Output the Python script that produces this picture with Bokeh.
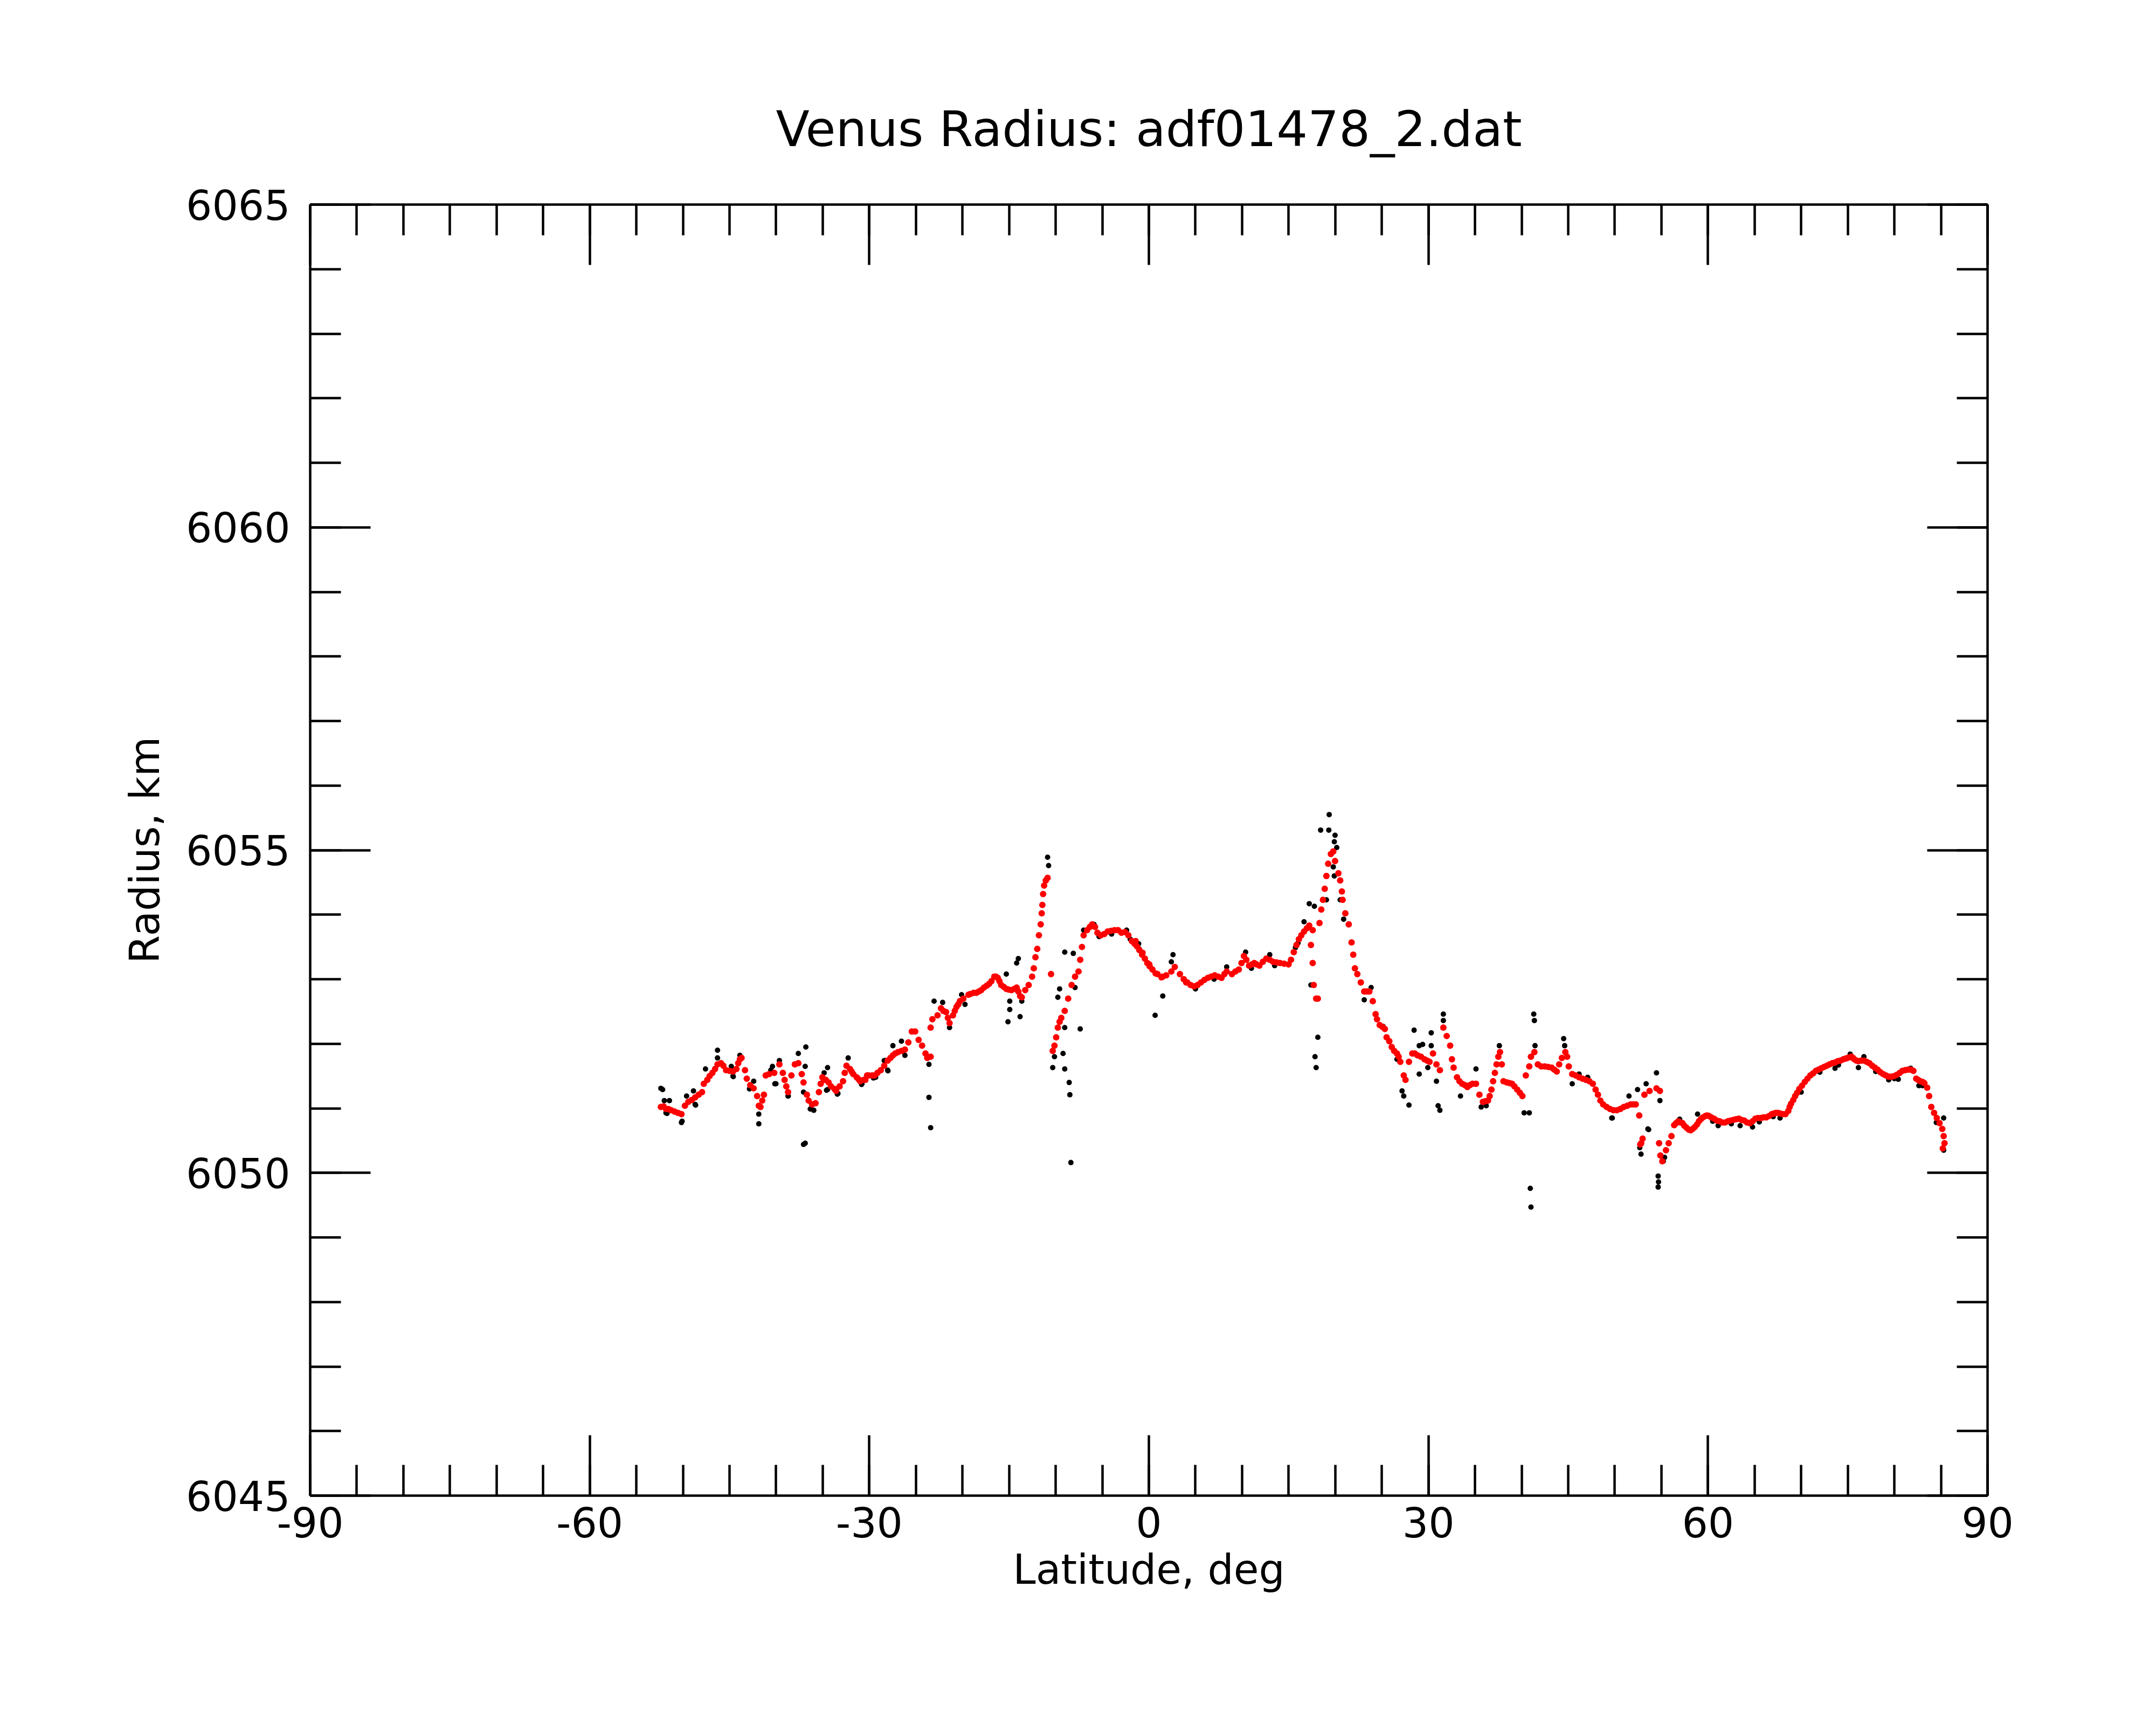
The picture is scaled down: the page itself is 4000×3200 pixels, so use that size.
from bokeh.plotting import figure
from bokeh.models import Range1d, FixedTicker, LinearAxis
from bokeh.embed import file_html
from bokeh.resources import INLINE

# ---------------- data ----------------
red_lat = [
    -52.37, -51.82, -51.27, -50.53, -50.16, -49.79, -49.42, -48.69, -47.95, -47.76,
    -47.39, -46.84, -46.29, -45.92, -45.37, -44.63, -44.26, -43.89, -43.71, -43.34,
    -43.15, -42.78, -42.41, -42.04, -41.86, -41.68, -41.49, -41.31, -41.12, -40.75,
    -40.20, -39.65, -39.28, -39.09, -38.91, -38.72, -38.36, -37.99, -37.62, -37.25,
    -37.06, -36.70, -36.51, -36.14, -35.77, -35.41, -35.04, -34.67, -34.11, -33.56,
    -33.19, -32.82, -32.45, -32.08, -31.72, -31.35, -30.98, -30.61, -30.24, -29.69,
    -29.13, -28.40, -28.03, -27.47, -26.92, -26.18, -25.81, -25.44, -25.08, -24.71,
    -24.34, -23.97, -23.78, -23.42,
    -23.42, -23.23, -22.68, -22.31, -21.76, -21.39, -21.02, -20.65, -20.28, -19.91,
    -19.36, -18.80, -18.25, -17.70, -17.14, -16.59, -16.22, -15.85, -15.30, -14.75,
    -14.19, -13.82, -13.64, -13.27, -12.90, -12.53, -12.35, -12.17, -11.98, -11.80,
    -11.61, -11.50, -11.43, -11.35, -11.24, -11.06, -10.87,
    -10.50, -10.32, -10.13, -9.95, -9.77, -9.58, -9.40, -9.03, -8.66, -8.29,
    -7.92, -7.55, -7.37, -7.18, -7.00, -6.63, -6.08, -5.52, -5.16, -4.42,
    -3.68, -2.94, -2.20, -1.83, -1.28, -0.73, -0.17, 0.38, 0.93, 1.49,
    1.86, 2.41, 2.78, 3.33, 4.00,
    4.11, 4.85, 5.59, 6.33, 7.06, 7.80, 8.35, 8.91, 9.65, 10.20,
    10.75, 11.31, 11.86, 12.60, 13.33, 14.07, 14.99, 15.55, 16.10, 16.65,
    17.21, 17.58, 18.31, 18.50, 18.68, 18.87, 19.05, 19.24, 19.53, 19.79,
    19.98, 20.34, 20.53, 20.71, 20.79, 21.08, 21.45, 21.75, 21.93, 22.11,
    22.37, 22.74, 23.11, 23.66, 24.03, 24.33, 24.77, 25.32, 25.51, 26.06,
    26.62, 26.98, 27.35, 27.54, 27.91, 28.27, 28.83, 29.57, 30.12, 30.49,
    30.86, 31.23,
    17.39, 17.58, 17.69, 17.95, 18.13,
    31.60, 31.96, 32.33, 32.52, 32.70, 33.07, 33.62, 34.18, 34.73, 35.10,
    35.47, 35.84, 36.39, 36.76, 37.13, 37.50, 37.68, 37.87, 38.05, 38.42,
    38.97, 39.53, 40.08, 40.45, 40.82, 41.00, 41.37, 41.74, 42.48, 43.22,
    43.77, 44.32, 44.69, 44.88, 45.06, 45.43, 46.17, 46.90, 47.64, 48.19,
    48.75, 49.49, 50.22, 50.96, 51.70, 52.25, 52.62, 53.18, 53.73, 54.47,
    54.84,
    52.73, 52.83, 52.98, 54.75, 54.89, 55.10, 55.49, 55.78, 56.08,
    56.37, 56.81, 57.26, 57.70, 58.14, 58.58, 59.03, 59.47, 59.91, 60.35,
    60.94, 61.53, 62.13, 62.72, 63.31, 63.90, 64.49, 65.08, 65.67, 66.26,
    66.85, 67.29, 67.73, 68.32, 68.62, 68.91, 69.35, 69.80, 70.39, 70.98,
    71.57, 72.16, 72.75, 73.34, 73.93, 74.52, 74.96, 75.40, 75.70, 76.14,
    76.73, 77.32, 77.91, 78.50, 79.09, 79.68, 80.27, 80.86, 81.45, 82.04,
    82.34, 82.78, 83.22, 83.52, 83.73, 83.96, 84.26, 84.55, 84.85, 85.14,
    85.29, 85.38, 85.20,
]
red_rad = [
    6051.02, 6050.99, 6050.97, 6050.93, 6050.91, 6051.04, 6051.10, 6051.17, 6051.25, 6051.38,
    6051.44, 6051.55, 6051.68, 6051.70, 6051.59, 6051.57, 6051.61, 6051.76, 6051.78, 6051.59,
    6051.46, 6051.36, 6051.31, 6051.19, 6051.04, 6051.02, 6051.12, 6051.21, 6051.51, 6051.53,
    6051.55, 6051.68, 6051.55, 6051.44, 6051.34, 6051.25, 6051.51, 6051.68, 6051.70, 6051.53,
    6051.40, 6051.21, 6051.12, 6051.06, 6051.08, 6051.25, 6051.48, 6051.44, 6051.34, 6051.27,
    6051.34, 6051.42, 6051.66, 6051.61, 6051.53, 6051.48, 6051.42, 6051.44, 6051.51, 6051.51,
    6051.55, 6051.66, 6051.74, 6051.82, 6051.87, 6051.91, 6052.02, 6052.19, 6052.19, 6052.06,
    6051.97, 6051.85, 6051.78, 6051.80,
    6052.25, 6052.38, 6052.44, 6052.55, 6052.49, 6052.32, 6052.44, 6052.57, 6052.66, 6052.70,
    6052.76, 6052.79, 6052.81, 6052.87, 6052.93, 6053.04, 6053.02, 6052.91, 6052.85, 6052.83,
    6052.87, 6052.74, 6052.72, 6052.83, 6052.91, 6053.04, 6053.17, 6053.34, 6053.47, 6053.68,
    6053.85, 6054.02, 6054.15, 6054.32, 6054.45, 6054.53, 6054.57,
    6053.08, 6051.89, 6051.97, 6052.10, 6052.25, 6052.34, 6052.40, 6052.51, 6052.70, 6052.91,
    6053.04, 6053.12, 6053.30, 6053.50, 6053.68, 6053.76, 6053.85, 6053.72, 6053.68, 6053.74,
    6053.76, 6053.72, 6053.68, 6053.59, 6053.51, 6053.38, 6053.25, 6053.15, 6053.08, 6053.04,
    6053.06, 6053.12, 6053.19, 6053.08, 6052.95,
    6052.95, 6052.89, 6052.95, 6053.02, 6053.06, 6053.02, 6053.12, 6053.08, 6053.15, 6053.36,
    6053.21, 6053.25, 6053.21, 6053.32, 6053.27, 6053.25, 6053.23, 6053.42, 6053.62, 6053.74,
    6053.83, 6053.76, 6053.87, 6054.08, 6054.23, 6054.40, 6054.60, 6054.79, 6054.94, 6054.98,
    6054.83, 6054.64, 6054.53, 6054.36, 6054.23, 6054.02, 6053.85, 6053.57, 6053.38, 6053.17,
    6053.08, 6052.95, 6052.81, 6052.81, 6052.66, 6052.46, 6052.29, 6052.23, 6052.10, 6051.95,
    6051.85, 6051.72, 6051.51, 6051.44, 6051.72, 6051.85, 6051.82, 6051.76, 6051.72, 6051.85,
    6051.68, 6051.59,
    6053.53, 6053.25, 6052.91, 6052.70, 6052.70,
    6052.25, 6052.12, 6051.97, 6051.76, 6051.63, 6051.48, 6051.38, 6051.33, 6051.38, 6051.38,
    6051.21, 6051.10, 6051.12, 6051.29, 6051.55, 6051.80, 6051.87, 6051.68, 6051.42, 6051.40,
    6051.38, 6051.29, 6051.19, 6051.51, 6051.65, 6051.80, 6051.87, 6051.68, 6051.65, 6051.63,
    6051.57, 6051.78, 6051.87, 6051.80, 6051.65, 6051.53, 6051.48, 6051.44, 6051.38, 6051.21,
    6051.06, 6050.99, 6050.97, 6051.02, 6051.06, 6051.06, 6050.89, 6051.21, 6051.27, 6051.31,
    6051.27,
    6050.44, 6050.46, 6050.53, 6050.46, 6050.27, 6050.18, 6050.35, 6050.46, 6050.57,
    6050.74, 6050.80, 6050.77, 6050.70, 6050.66, 6050.71, 6050.80, 6050.86, 6050.89, 6050.86,
    6050.81, 6050.78, 6050.80, 6050.82, 6050.84, 6050.81, 6050.77, 6050.84, 6050.85, 6050.86,
    6050.91, 6050.93, 6050.92, 6050.91, 6050.96, 6051.07, 6051.19, 6051.30, 6051.41, 6051.51,
    6051.58, 6051.62, 6051.66, 6051.70, 6051.73, 6051.76, 6051.78, 6051.80, 6051.76, 6051.73,
    6051.74, 6051.70, 6051.63, 6051.56, 6051.51, 6051.49, 6051.52, 6051.58, 6051.60, 6051.58,
    6051.46, 6051.42, 6051.39, 6051.32, 6051.19, 6051.02, 6050.93, 6050.85, 6050.77, 6050.68,
    6050.57, 6050.46, 6050.38,
]

# further red readings (latitude, radius) taken between the ones above
red_more = [
    (56.58, 6050.77), (57.05, 6050.78), (57.46, 6050.73), (57.93, 6050.67), (58.35, 6050.68),
    (58.82, 6050.75), (59.23, 6050.83), (59.71, 6050.88), (60.12, 6050.88), (60.65, 6050.84),
    (61.24, 6050.80), (61.83, 6050.78), (62.42, 6050.81), (63.01, 6050.83), (63.60, 6050.82),
    (64.19, 6050.78), (64.78, 6050.80), (65.37, 6050.85), (65.96, 6050.86), (66.55, 6050.88),
    (67.08, 6050.92), (67.50, 6050.93), (68.03, 6050.91), (68.76, 6051.02), (69.15, 6051.13),
    (69.56, 6051.24), (70.09, 6051.35), (70.68, 6051.46), (71.27, 6051.54), (71.86, 6051.60),
    (72.45, 6051.64), (73.04, 6051.68), (73.63, 6051.71), (74.22, 6051.74), (74.76, 6051.77),
    (75.17, 6051.79), (75.55, 6051.78), (75.93, 6051.74), (76.44, 6051.74), (77.03, 6051.72),
    (77.62, 6051.66), (78.21, 6051.60), (78.80, 6051.53), (79.39, 6051.49), (79.98, 6051.50),
    (80.57, 6051.55), (81.16, 6051.59), (81.75, 6051.60), (82.55, 6051.44), (83.02, 6051.41),
    (-1.42, 6053.59), (-0.68, 6053.41), (0.05, 6053.23), (0.72, 6053.09), (1.35, 6053.03),
    (3.74, 6053.00), (4.48, 6052.91), (5.22, 6052.91), (5.96, 6052.99), (6.69, 6053.04),
    (7.43, 6053.04), (8.10, 6053.08), (9.28, 6053.12), (9.94, 6053.25), (10.46, 6053.30),
    (11.05, 6053.23), (11.56, 6053.23), (12.23, 6053.27), (12.97, 6053.30), (13.70, 6053.26),
    (14.51, 6053.24), (15.25, 6053.30), (15.84, 6053.53), (16.36, 6053.68), (16.95, 6053.79),
    (-6.33, 6053.81), (-5.78, 6053.81), (-4.79, 6053.70), (-4.05, 6053.75), (-3.31, 6053.76),
    (-2.57, 6053.73), (-1.54, 6053.55), (-1.02, 6053.45), (-0.43, 6053.32), (0.08, 6053.20),
    (-30.06, 6051.51), (-29.43, 6051.51), (-28.77, 6051.59), (-27.73, 6051.78), (-27.22, 6051.85),
    (-26.55, 6051.89), (-19.17, 6052.77), (-18.51, 6052.79), (-17.99, 6052.83), (-17.40, 6052.90),
    (-16.89, 6052.97), (-16.41, 6053.04), (-16.04, 6052.97), (-15.56, 6052.88), (-15.04, 6052.84),
    (-14.45, 6052.85), (-14.01, 6052.81), (-22.05, 6052.51), (-21.57, 6052.40), (-20.83, 6052.51),
    (-20.46, 6052.61), (-52.08, 6051.03), (-51.56, 6050.99), (-50.90, 6050.95), (-49.05, 6051.13),
    (-48.32, 6051.21), (-47.14, 6051.50), (-46.55, 6051.61), (-45.66, 6051.66), (-45.00, 6051.58),
    (-44.07, 6051.70), (-35.22, 6051.38), (-34.85, 6051.44), (-34.37, 6051.40), (-33.74, 6051.30),
    (-32.64, 6051.55), (-31.90, 6051.57), (-31.16, 6051.45), (-30.43, 6051.44),
    (23.37, 6052.81), (24.48, 6052.38), (25.07, 6052.26), (25.80, 6052.04), (26.32, 6051.89),
    (26.80, 6051.80), (28.53, 6051.85), (29.20, 6051.80), (29.86, 6051.74),
    (33.33, 6051.42), (33.92, 6051.36), (34.44, 6051.36), (36.13, 6051.11), (36.57, 6051.19),
    (36.94, 6051.42), (37.31, 6051.68), (38.71, 6051.39), (39.23, 6051.34), (39.82, 6051.24),
    (42.11, 6051.65), (42.85, 6051.64), (43.51, 6051.60), (44.03, 6051.68), (45.80, 6051.51),
    (46.54, 6051.46), (47.27, 6051.42), (47.94, 6051.29), (48.45, 6051.12), (49.12, 6051.02),
    (49.85, 6050.97), (50.59, 6050.99), (51.33, 6051.04), (51.99, 6051.06),
]

blk_lat = [
    -52.37, -52.18, -52.00, -51.45, -51.82, -50.16, -49.61, -48.69, -48.87, -47.58,
    -46.29, -46.29, -44.81, -44.63, -43.89, -42.41, -41.86, -41.86, -40.57, -40.39,
    -40.02, -39.65, -38.72, -37.62, -36.81, -36.88, -37.06, -37.06, -36.88, -36.33,
    -35.96, -34.85, -34.48, -34.48, -33.37, -32.27, -30.79, -29.32, -28.40, -28.03,
    -27.47, -26.55, -26.18, -23.60, -23.60, -23.42, -23.05, -22.13, -21.39, -20.10,
    -19.73, -15.30, -14.01, -14.19, -14.93, -14.93, -15.12, -13.64, -13.82, -10.87,
    -10.76, -9.03, -8.11, -9.58, -9.77, -7.92, -9.03, -7.37, -10.32, -10.13,
    -9.21, -9.03, -8.55, -8.48, -8.37, -5.89, -7.00, -5.34, -2.39, -1.10,
    1.49, 0.67, 2.59, 2.41,
    -51.71, -50.09, -48.64, -44.60, -42.86, -40.14, -38.70, -36.32, -34.59, -33.43,
    -30.83, -29.56, -28.00, -28.30,
    -1.05, 8.35, 10.38, 12.97, 15.73, 16.65, 17.21, 17.76, 17.39, 18.13,
    17.83, 17.95, 18.43, 19.31, 19.35, 19.98, 19.90, 20.16, 19.79, 19.90,
    19.05, 20.53, 20.90, 23.11, 23.85, 25.14, 26.62, 27.17, 27.35, 27.91,
    28.46, 29.01, 29.38, 30.30, 30.30, 29.93, 29.01, 30.86, 31.04, 31.23,
    31.60, 31.60, 33.44, 35.10, 35.66, 36.20, 37.61, 40.27, 40.82, 40.93,
    41.00, 41.30, 41.37, 41.44, 44.51, 44.62, 45.43, 46.17, 47.09, 49.67,
    51.52, 52.44, 53.36, 54.47, 54.84, 53.55, 52.81, 54.65, 54.65, 55.21,
    52.68, 53.63, 54.69, 49.73, 85.29, 85.29, 82.63, 80.42, 79.39, 76.14,
    73.63, 76.73, 75.26, 67.73, 64.78, 63.45, 61.09, 58.88, 56.96, 55.34,
    81.75,
    57.50, 60.50, 62.50, 65.50, 67.00, 70.00, 72.00, 74.00, 78.00, 80.00,
    83.00, 84.50, -4.00, -2.00, 5.00, 7.00, 11.00, 13.50, 16.00,
]
blk_rad = [
    6051.31, 6051.29, 6051.12, 6051.12, 6050.93, 6050.78, 6051.19, 6051.06, 6051.27, 6051.61,
    6051.90, 6051.78, 6051.65, 6051.50, 6051.82, 6051.42, 6050.91, 6050.76, 6051.59, 6051.65,
    6051.38, 6051.74, 6051.19, 6051.85, 6051.95, 6051.65, 6051.25, 6050.44, 6050.46, 6050.99,
    6050.97, 6051.55, 6051.63, 6051.29, 6051.23, 6051.78, 6051.38, 6051.48, 6051.74, 6051.59,
    6051.97, 6052.04, 6051.82, 6051.68, 6051.17, 6050.70, 6052.66, 6052.64, 6052.25, 6052.76,
    6052.61, 6053.08, 6053.32, 6053.25, 6052.66, 6052.53, 6052.34, 6052.66, 6052.42, 6054.89,
    6054.76, 6053.42, 6053.40, 6052.85, 6052.72, 6052.87, 6052.25, 6052.23, 6051.63, 6051.80,
    6051.85, 6051.61, 6051.40, 6051.21, 6050.16, 6053.85, 6053.76, 6053.66, 6053.76, 6053.55,
    6052.74, 6052.44, 6053.38, 6053.27,
    6050.92, 6050.80, 6051.05, 6051.49, 6051.30, 6051.38, 6051.19, 6050.99, 6051.28, 6051.22,
    6051.37, 6051.47, 6051.58, 6051.74,
    6053.47, 6053.19, 6053.42, 6053.38, 6053.49, 6053.89, 6054.17, 6054.13, 6052.91, 6052.10,
    6051.80, 6051.63, 6055.31, 6055.31, 6055.55, 6055.23, 6055.13, 6055.04, 6054.74, 6054.60,
    6054.23, 6054.23, 6053.93, 6052.68, 6052.87, 6052.27, 6051.76, 6051.27, 6051.19, 6051.05,
    6052.21, 6051.97, 6051.99, 6052.17, 6051.97, 6051.63, 6051.53, 6051.42, 6051.04, 6050.97,
    6052.46, 6052.36, 6051.19, 6051.61, 6051.02, 6051.04, 6051.97, 6050.93, 6050.93, 6049.76,
    6049.47, 6052.46, 6052.36, 6051.97, 6052.08, 6051.97, 6051.38, 6051.53, 6051.48, 6050.85,
    6051.19, 6051.29, 6051.38, 6051.55, 6051.12, 6050.68, 6050.29, 6049.95, 6049.78, 6050.18,
    6050.39, 6050.67, 6049.86, 6050.85, 6050.35, 6050.85, 6051.35, 6051.45, 6051.44, 6051.63,
    6051.62, 6051.80, 6051.84, 6050.85, 6050.71, 6050.73, 6050.73, 6050.91, 6050.83, 6050.24,
    6051.62,
    6050.72, 6050.80, 6050.76, 6050.79, 6050.87, 6051.25, 6051.56, 6051.67, 6051.57, 6051.46,
    6051.35, 6050.78, 6053.70, 6053.62, 6052.85, 6053.00, 6053.17, 6053.21, 6053.56,
]

x_major = [-90, -60, -30, 0, 30, 60, 90]
x_minor = list(range(-90, 91, 5))
y_major = [6045, 6050, 6055, 6060, 6065]
y_minor = list(range(6045, 6066))
x_labels = {-90: "-90", -60: "-60", -30: "-30", 0: "0", 30: "30", 60: "60", 90: "90"}
y_labels = {6045: "6045", 6050: "6050", 6055: "6055", 6060: "6060", 6065: "6065"}

FONT = "DejaVu Sans"

all_red_lat = red_lat + [a for a, b in red_more]
all_red_rad = red_rad + [b for a, b in red_more]

p = figure(width=3984, height=3184,
           x_range=Range1d(-90, 90), y_range=Range1d(6045, 6065),
           output_backend="svg", toolbar_location=None,
           min_border_left=575, min_border_right=297,
           min_border_top=379, min_border_bottom=410,
           background_fill_color="white", border_fill_color="white")
p.grid.visible = False
p.outline_line_color = None

bottom_ax = p.below[0]
left_ax = p.left[0]
top_ax = LinearAxis()
right_ax = LinearAxis()
p.add_layout(top_ax, "above")
p.add_layout(right_ax, "right")

p.title.text = "Venus Radius: adf01478_2.dat"
p.title.align = "center"
p.title.text_font = FONT
p.title.text_font_size = "91px"
p.title.text_font_style = "normal"
p.title.text_color = "black"
p.title.standoff = 175


def style(ax, major, minor, labels, show):
    ax.ticker = FixedTicker(ticks=major, minor_ticks=minor)
    ax.axis_line_width = 4.5
    ax.axis_line_color = "black"
    ax.major_tick_in = 112
    ax.major_tick_out = 0
    ax.minor_tick_in = 57
    ax.minor_tick_out = 0
    ax.major_tick_line_width = 4.5
    ax.minor_tick_line_width = 4.5
    ax.major_tick_line_color = "black"
    ax.minor_tick_line_color = "black"
    ax.major_label_text_font = FONT
    ax.major_label_text_font_size = "76px"
    ax.major_label_text_color = "black"
    if show:
        ax.major_label_overrides = labels
    else:
        ax.major_label_overrides = {k: "" for k in labels}


style(bottom_ax, x_major, x_minor, x_labels, True)
style(left_ax, y_major, y_minor, y_labels, True)
style(top_ax, x_major, x_minor, x_labels, False)
style(right_ax, y_major, y_minor, y_labels, False)

bottom_ax.major_label_standoff = 21
left_ax.major_label_standoff = 37
bottom_ax.axis_label = "Latitude, deg"
left_ax.axis_label = "Radius, km"
for ax in (bottom_ax, left_ax):
    ax.axis_label_text_font = FONT
    ax.axis_label_text_font_size = "76px"
    ax.axis_label_text_font_style = "normal"
    ax.axis_label_text_color = "black"
bottom_ax.axis_label_standoff = 12
left_ax.axis_label_standoff = 29

p.scatter(blk_lat, blk_rad, marker="circle", size=10,
          fill_color="black", line_color=None)
p.scatter(all_red_lat, all_red_rad, marker="circle", size=12,
          fill_color="red", line_color=None)

open("out.html", "w").write(file_html(p, INLINE))
